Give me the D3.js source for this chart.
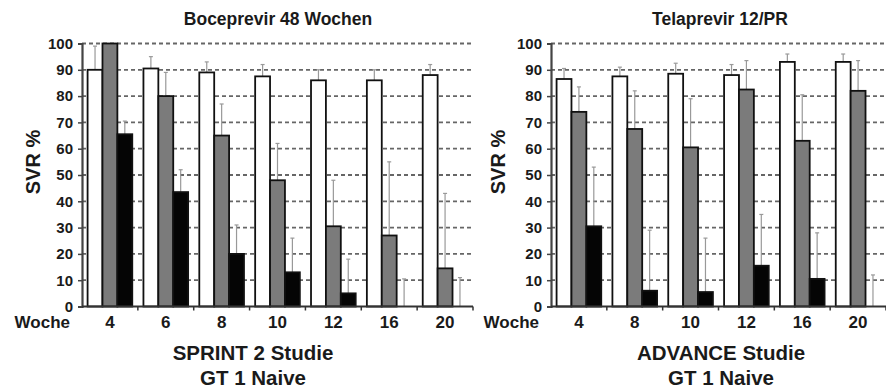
<!DOCTYPE html>
<html>
<head>
<meta charset="utf-8">
<script src="https://cdn.jsdelivr.net/npm/d3@7"></script>
<style>
  body { margin: 0; background: #fff; }
  text { font-family: "Liberation Sans", Arial, sans-serif; font-weight: bold; fill: #1a1a1a; }
</style>
</head>
<body>
<div id="app"></div>
<script>

// Boceprevir 48 Wochen (SPRINT 2)
const bocWeeks = ['4', '6', '8', '10', '12', '16', '20']
const bocWhite = [90, 90.5, 89, 87.5, 86, 86, 88]
const bocWhiteErr = [99, 95, 93, 92, 90, 90, 92]
const bocGray = [100, 80, 65, 48, 30.5, 27, 14.5]
const bocGrayErr = [100, 89, 77, 62, 48, 55, 43]
const bocBlack = [65.5, 43.5, 20, 13, 5, 0, 0]
const bocBlackErr = [70.5, 52, 31, 26, 18, 10.5, 11]

// Telaprevir 12/PR (ADVANCE)
const telWeeks = ['4', '8', '10', '12', '16', '20']
const telWhite = [86.5, 87.5, 88.5, 88, 93, 93]
const telWhiteErr = [90.5, 91, 92.5, 92, 96, 96]
const telGray = [74, 67.5, 60.5, 82.5, 63, 82]
const telGrayErr = [83.5, 82, 79, 93.5, 80.5, 93.5]
const telBlack = [30.5, 6, 5.5, 15.5, 10.5, 0]
const telBlackErr = [53, 29, 26, 35, 28, 12]

const yTicks = [0, 10, 20, 30, 40, 50, 60, 70, 80, 90, 100]
const seriesKeys = ['white', 'gray', 'black']
const fills = { white: '#ffffff', gray: '#7b7b7b', black: '#050505' }

const width = 886
const height = 388

const svg = d3.select('#app').append('svg')
  .attr('width', width)
  .attr('height', height)

const y = d3.scaleLinear().domain([0, 100]).range([306.5, 43.5])

function panel(opts) {
  const g = svg.append('g')
  const { x0, x1, weeks } = opts

  const x = d3.scaleBand().domain(weeks).range([x0, x1])
  const inner = d3.scaleBand().domain(seriesKeys)
    .range([x.bandwidth() * 0.1, x.bandwidth() * 0.9])

  // dashed gridlines
  g.append('g').selectAll('line').data(yTicks.slice(1)).join('line')
    .attr('x1', x0).attr('x2', x1)
    .attr('y1', d => y(d)).attr('y2', d => y(d))
    .attr('stroke', '#666').attr('stroke-width', 1.8)
    .attr('stroke-dasharray', '4,3')

  // rows: one entry per bar
  const rows = []
  weeks.forEach((w, i) => {
    seriesKeys.forEach(k => {
      rows.push({ week: w, key: k, value: opts[k][i], err: opts[k + 'Err'][i] })
    })
  })

  // error bars (drawn first so bar tops cover them)
  const eb = g.append('g').attr('stroke', '#999').attr('stroke-width', 1.2)
  rows.filter(d => d.err > d.value).forEach(d => {
    const cx = x(d.week) + inner(d.key) + inner.bandwidth() / 2
    eb.append('line').attr('x1', cx).attr('x2', cx).attr('y1', y(d.value)).attr('y2', y(d.err))
    eb.append('line').attr('x1', cx - 2).attr('x2', cx + 2).attr('y1', y(d.err)).attr('y2', y(d.err))
  })

  g.append('g').selectAll('rect').data(rows.filter(d => d.value > 0)).join('rect')
    .attr('x', d => x(d.week) + inner(d.key))
    .attr('width', inner.bandwidth())
    .attr('y', d => y(d.value))
    .attr('height', d => y(0) - y(d.value))
    .attr('fill', d => fills[d.key])
    .attr('stroke', '#111')
    .attr('stroke-width', 1.8)

  // y axis
  const yAxis = g.append('g')
    .attr('transform', `translate(${x0},0)`)
    .call(d3.axisLeft(y).tickValues(yTicks).tickSize(4).tickPadding(5))
  yAxis.select('.domain').attr('stroke', '#444').attr('stroke-width', 2.2)
  yAxis.selectAll('.tick line').attr('stroke', '#444').attr('stroke-width', 1.5)
  yAxis.selectAll('text').style('font-size', '15px').attr('fill', '#1a1a1a')

  // x axis
  g.append('line')
    .attr('x1', x0).attr('x2', x1).attr('y1', y(0)).attr('y2', y(0))
    .attr('stroke', '#333').attr('stroke-width', 2.2)
  g.append('g').selectAll('line').data(weeks.slice(1).concat(['end'])).join('line')
    .attr('x1', d => d === 'end' ? x1 : x(d)).attr('x2', d => d === 'end' ? x1 : x(d))
    .attr('y1', y(0)).attr('y2', y(0) + 4)
    .attr('stroke', '#333').attr('stroke-width', 1.5)

  g.append('g').selectAll('text').data(weeks).join('text')
    .attr('x', d => x(d) + x.bandwidth() / 2)
    .attr('y', 328)
    .attr('text-anchor', 'middle')
    .style('font-size', '17px')
    .text(d => d)

  g.append('text')
    .attr('x', x0 - 12).attr('y', 328)
    .attr('text-anchor', 'end')
    .style('font-size', '17px')
    .text('Woche')

  g.append('text')
    .attr('transform', `translate(${opts.svrX},162) rotate(-90)`)
    .attr('text-anchor', 'middle')
    .attr('dy', '0.35em')
    .style('font-size', '20px')
    .text('SVR %')

  g.append('text')
    .attr('x', opts.titleX).attr('y', 25)
    .attr('text-anchor', 'middle')
    .style('font-size', '17.5px')
    .text(opts.title)

  g.selectAll('.sub').data(opts.subtitle).join('text')
    .attr('x', opts.subX).attr('y', (d, i) => 360 + i * 25)
    .attr('text-anchor', 'middle')
    .style('font-size', '20.5px')
    .text(d => d)
}

panel({
  x0: 82, x1: 473, weeks: bocWeeks,
  white: bocWhite, whiteErr: bocWhiteErr,
  gray: bocGray, grayErr: bocGrayErr,
  black: bocBlack, blackErr: bocBlackErr,
  title: 'Boceprevir 48 Wochen', titleX: 278,
  subtitle: ['SPRINT 2 Studie', 'GT 1 Naive'], subX: 253,
  svrX: 33
})

panel({
  x0: 551, x1: 886, weeks: telWeeks,
  white: telWhite, whiteErr: telWhiteErr,
  gray: telGray, grayErr: telGrayErr,
  black: telBlack, blackErr: telBlackErr,
  title: 'Telaprevir 12/PR', titleX: 720,
  subtitle: ['ADVANCE Studie', 'GT 1 Naive'], subX: 721,
  svrX: 498
})

</script>
</body>
</html>
